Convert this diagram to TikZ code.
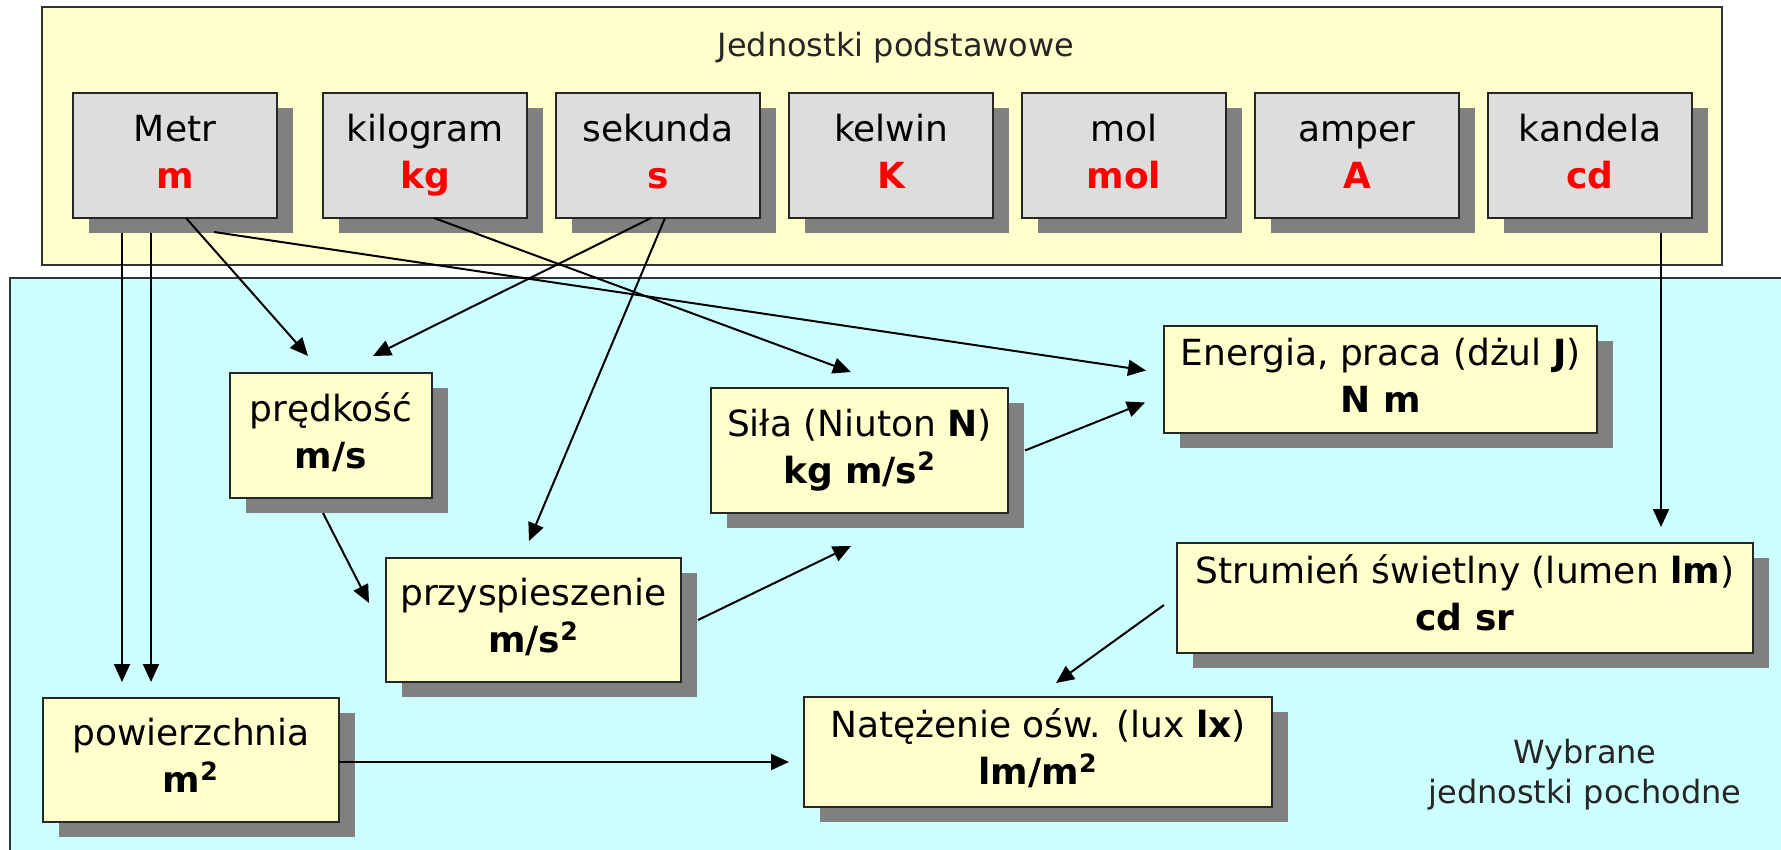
\documentclass[tikz,border=0pt]{standalone}
\usepackage{fontspec}
\setmainfont{DejaVu Sans}
\usepackage{xcolor}
\definecolor{colorBase}{RGB}{255,255,204}
\definecolor{colorDerived}{RGB}{204,255,255}
\definecolor{colorUnitBox}{RGB}{221,221,221}
\definecolor{colorShadow}{RGB}{128,128,128}
\definecolor{colorSymbol}{RGB}{255,0,0}
\usepackage{tikz}
\usetikzlibrary{arrows.meta, positioning, shadows, calc}
\tikzset{
  unitbox/.style={draw=black!85, line width=1.2pt, align=center, inner sep=0pt, outer sep=0pt,
    font=\fontsize{18pt}{23.5pt}\selectfont,
    drop shadow={shadow xshift=8pt, shadow yshift=-7.5pt, opacity=1, fill=colorShadow}},
  baseunit/.style={unitbox, fill=colorUnitBox, minimum width=102pt, minimum height=62.5pt},
  derivedunit/.style={unitbox, fill=colorBase},
  heading/.style={font=\fontsize{16pt}{20pt}\selectfont, align=center, text=black!85},
}
\newcommand{\unitsym}[1]{\textbf{\color{colorSymbol}#1}}
\newcommand{\unitpair}[2]{\strut#1\\\strut#2}

\begin{document}
\begin{tikzpicture}[x=0.5pt, y=-0.5pt, >={Triangle[length=9pt, width=8pt]}, line width=1pt]
\useasboundingbox (0,0) rectangle (1781,850);
% frames
\draw[fill=colorDerived, draw=black!80, line width=1.2pt] (10,278) rectangle (1800,870);
\draw[fill=colorBase, draw=black!80, line width=1.2pt] (42,7) rectangle (1722,265);
\node[heading] (title) at (896,48) {Jednostki podstawowe};
\node[heading] (tag) at (1585,775) {Wybrane\\jednostki pochodne};

% base units
\node[baseunit] (metr) at (175,155.5) {\unitpair{Metr}{\unitsym{m}}};
\node[baseunit, right=23pt of metr] (kg) {\unitpair{kilogram}{\unitsym{kg}}};
\node[baseunit, right=14.5pt of kg] (sek) {\unitpair{sekunda}{\unitsym{s}}};
\node[baseunit, right=14.5pt of sek] (kel) {\unitpair{kelwin}{\unitsym{K}}};
\node[baseunit, right=14.5pt of kel] (mol) {\unitpair{mol}{\unitsym{mol}}};
\node[baseunit, right=14.5pt of mol] (amp) {\unitpair{amper}{\unitsym{A}}};
\node[baseunit, right=14.5pt of amp] (kan) {\unitpair{kandela}{\unitsym{cd}}};

% derived units
\node[derivedunit, minimum width=101pt, minimum height=62.5pt] (speed) at (331,435.5) {\unitpair{prędkość}{\textbf{m/s}}};
\node[derivedunit, minimum width=148.5pt, minimum height=62.5pt] (force) at (859.5,450.5) {\unitpair{Siła (Niuton \textbf{N})}{\textbf{kg m/s\textsuperscript{2}}}};
\node[derivedunit, minimum width=216.5pt, minimum height=53.5pt] (energy) at (1380.5,379.5) {\unitpair{Energia, praca (dżul \textbf{J})}{\textbf{N m}}};
\node[derivedunit, minimum width=288pt, minimum height=55pt] (flux) at (1465,598) {\unitpair{Strumień świetlny (lumen \textbf{lm})}{\textbf{cd sr}}};
\node[derivedunit, minimum width=147.5pt, minimum height=62pt] (accel) at (533.5,620) {\unitpair{przyspieszenie}{\textbf{m/s\textsuperscript{2}}}};
\node[derivedunit, minimum width=148pt, minimum height=62pt] (area) at (191,760) {\unitpair{powierzchnia}{\textbf{m\textsuperscript{2}}}};
\node[derivedunit, minimum width=234pt, minimum height=55pt] (illum) at (1038,752) {\unitpair{Natężenie ośw. (lux \textbf{lx})}{\textbf{lm/m\textsuperscript{2}}}};

% connectors
\draw[->] ($(metr.south west)+(113,0)$) -- ($(speed.north west)+(78,-17)$);
\draw[->] ($(sek.south west)+(95,0)$) -- ($(speed.north west)+(143,-17)$);
\draw[->] ($(sek.south west)+(109,0)$) -- ($(accel.north west)+(143,-17)$);
\draw[->] ($(speed.south west)+(93,15)$) -- ($(accel.north west)+(-17,45)$);
\draw[->] ($(accel.east)+(17,0)$) -- ($(force.south west)+(140,33)$);
\draw[->] ($(force.east)+(17,0)$) -- ($(energy.west)+(-19,23)$);
\draw[->] ($(metr.south west)+(141,14)$) -- ($(energy.west)+(-18,-9)$);
\draw[->] ($(kg.south west)+(111,0)$) -- ($(force.north west)+(140,-16)$);
\draw[->] ($(metr.south west)+(49,15)$) -- ($(area.north west)+(79,-16)$);
\draw[->] ($(metr.south west)+(78,15)$) -- ($(area.north west)+(108,-16)$);
\draw[->] ($(area.east)+(0,2)$) -- ($(illum.west)+(-15,10)$);
\draw[->] ($(kan.south west)+(173,15)$) -- ($(flux.north west)+(484,-16)$);
\draw[->] ($(flux.west)+(-13,7)$) -- ($(illum.north west)+(252,-14)$);
\end{tikzpicture}
\end{document}
